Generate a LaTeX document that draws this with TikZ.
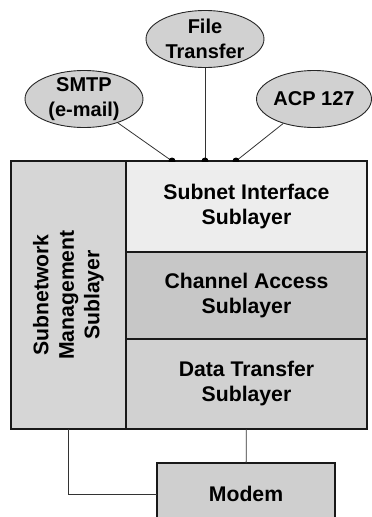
\documentclass[tikz,border=0pt]{standalone}
\usepackage{fontspec}
\setmainfont{Liberation Sans}
\usetikzlibrary{shapes.geometric,positioning}

\begin{document}
\begin{tikzpicture}[x=1pt, y=-1pt,
    proto/.style={ellipse, draw=black!85, line width=0.9pt, fill=black!18,
      minimum width=118pt, minimum height=57pt, inner xsep=0pt, inner ysep=-8pt,
      align=center, font=\bfseries\fontsize{20}{25.5}\selectfont},
    layer/.style={rectangle, draw=black!90, line width=1.1pt, outer sep=0pt,
      minimum width=241pt, align=center, font=\bfseries\fontsize{21.2}{25}\selectfont},
    wire/.style={line width=0.8pt, black!80}]
    \useasboundingbox (0,0) rectangle (372,517);
    \clip (0,0) rectangle (372,517);

    % Management sublayer
    \node[layer, rotate=90, fill=black!16, minimum width=268pt, minimum height=115pt,
      font=\bfseries\fontsize{21.2}{25.5}\selectfont] (mgmt) at (68.5,295) {Subnetwork\\Management\\Sublayer};

    % Sublayers
    \node[layer, fill=black!7, minimum height=91pt, anchor=north west] (sni) at (126,161) {Subnet Interface\\Sublayer};
    \node[layer, fill=black!22, minimum height=87pt, below=0pt of sni] (cha) {Channel Access\\Sublayer};
    \node[layer, fill=black!18, minimum height=90pt, below=0pt of cha] (dts) {Data Transfer\\Sublayer};

    % Modem
    \node[layer, fill=black!19, minimum width=178pt, minimum height=62pt] (modem) at (246,494) {Modem};

    % Protocols
    \node[proto] (smtp) at (84,99) {SMTP\\(e-mail)};
    \node[proto] (ftp) at (205,39) {File\\Transfer};
    \node[proto, minimum width=115pt] (acp) at (314,99) {ACP 127};

    % Attachment points
    \coordinate (p1) at ([xshift=46pt]sni.north west);
    \coordinate (p2) at ([xshift=79pt]sni.north west);
    \coordinate (p3) at ([xshift=110pt]sni.north west);

    \draw[wire] (smtp) -- (p1);
    \draw[wire] (ftp) -- (p2);
    \draw[wire] (acp) -- (p3);
    \begin{scope}
        \clip (0,0) rectangle (372,161);
        \foreach \p in {p1,p2,p3}
            \fill (\p) circle (3.5);
    \end{scope}

    % Modem links
    \draw[wire] (dts) -- (modem);
    \draw[wire] (mgmt.west) |- (modem.west);
\end{tikzpicture}
\end{document}
